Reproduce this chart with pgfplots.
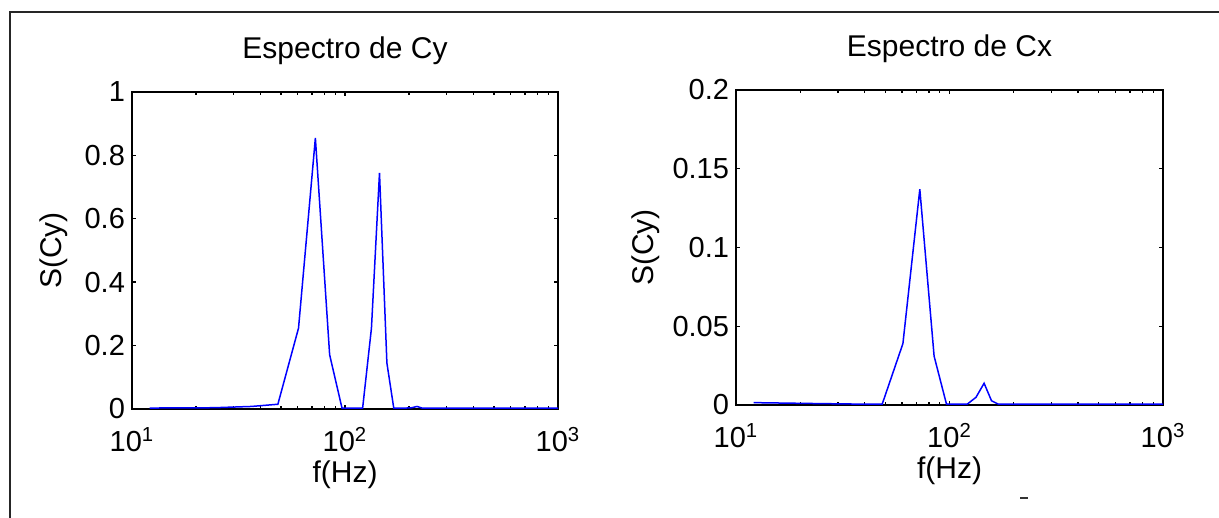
\documentclass[border=0pt]{standalone}
\usepackage{pgfplots}
\pgfplotsset{compat=1.18}
\usepackage{fontspec}
\setmainfont{Liberation Sans}

% espectros de Cy y Cx, bins de ~12.1 Hz
\pgfplotstableread{
f S
12.1 0.003
24.2 0.004
36.3 0.008
48.4 0.015
60.5 0.255
72.6 0.855
84.7 0.171
96.8 0.003
108.9 0.003
121.0 0.003
133.1 0.255
145.2 0.745
157.3 0.145
169.4 0.003
181.5 0.003
193.6 0.003
205.7 0.004
217.8 0.008
229.9 0.003
242.0 0.003
1004.3 0.003
}\specCy

\pgfplotstableread{
f S
12.1 0.0015
24.2 0.0009
36.3 0.0006
48.4 0.0006
60.5 0.039
72.6 0.137
84.7 0.031
96.8 0.0005
108.9 0.0005
121.0 0.0005
133.1 0.0049
145.2 0.0138
157.3 0.0027
169.4 0.0005
181.5 0.0005
1004.3 0.0005
}\specCx

\pgfplotsset{
  espectro/.style={
    scale only axis,
    xmin=10, xmax=1000,
    ymin=0,
    xtick={10,100,1000},
    xticklabels={10\textsuperscript{1},10\textsuperscript{2},10\textsuperscript{3}},
    axis line style={line width=1.1pt},
    major tick length=2.2pt,
    minor tick length=1.4pt,
    tick style={black, line width=0.7pt},
    ticklabel style={font=\fontsize{14.5}{17}\selectfont},
    xticklabel style={anchor=base, yshift=-21.3pt},
    label style={font=\fontsize{15}{18}\selectfont},
    xlabel style={at={(axis description cs:0.5,0)}, anchor=base, yshift=-37pt},
    title style={font=\fontsize{15}{18}\selectfont, at={(axis description cs:0.5,1)}, anchor=base, yshift=10.7pt},
    xlabel={f(Hz)},
    ylabel={S(Cy)},
  },
}

\begin{document}
\begin{tikzpicture}
  \useasboundingbox (0,0) rectangle (609.5pt,259pt);
  \draw[line width=1pt, black!85] (5pt,0) -- (5pt,253pt) -- (609.5pt,253pt);

  \begin{semilogxaxis}[espectro,
    at={(66pt,54.5pt)}, anchor=south west,
    width=213pt, height=158.5pt,
    ymax=1,
    ytick={0,0.2,0.4,0.6,0.8,1},
    yticklabels={0,0.2,0.4,0.6,0.8,1},
    ylabel style={at={(axis description cs:0,0.5)}, anchor=center, yshift=39pt},
    title={Espectro de Cy},
  ]
    \addplot[blue, line width=0.75pt] table[x=f, y=S] {\specCy};
  \end{semilogxaxis}

  \begin{semilogxaxis}[espectro,
    at={(368pt,56.5pt)}, anchor=south west,
    width=213.5pt, height=157.5pt,
    ymax=0.2,
    ytick={0,0.05,0.1,0.15,0.2},
    yticklabels={0,0.05,0.1,0.15,0.2},
    ylabel style={at={(axis description cs:0,0.5)}, anchor=center, yshift=45pt},
    title={Espectro de Cx},
  ]
    \addplot[blue, line width=0.75pt] table[x=f, y=S] {\specCx};
  \end{semilogxaxis}

  \draw[line width=0.8pt, black!80] (510pt,10pt) -- (514pt,10pt);
\end{tikzpicture}
\end{document}
